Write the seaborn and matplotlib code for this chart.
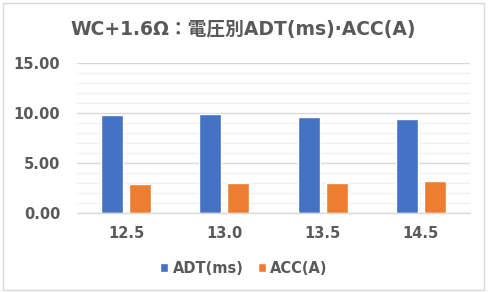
import matplotlib
matplotlib.use("Agg")
import matplotlib.pyplot as plt
import seaborn as sns
import pandas as pd
from matplotlib.patches import Rectangle
from matplotlib.ticker import MultipleLocator, FormatStrFormatter

categories = ["12.5", "13.0", "13.5", "14.5"]
adt = [9.83, 9.95, 9.62, 9.43]
acc = [2.93, 3.03, 3.0, 3.23]
series = ["ADT(ms)", "ACC(A)"]
title = "WC+1.6Ω：電圧別ADT(ms)·ACC(A)"

df = pd.DataFrame({
    "cat": categories * 2,
    "val": adt + acc,
    "series": [series[0]] * len(categories) + [series[1]] * len(categories),
})

sns.set_theme(style="white")
fams = ['DejaVu Sans', 'Noto Sans CJK JP']
plt.rcParams['font.family'] = fams

fig = plt.figure(figsize=(4.88, 2.93), dpi=100)
ax = fig.add_axes([77/488, 1-213.3/293, (470-77)/488, 150/293])

sns.barplot(data=df, x="cat", y="val", hue="series", order=categories,
            hue_order=series, palette=["#4472C4", "#ED7D31"],
            width=0.571, gap=0.21, ax=ax, legend=True, saturation=1)

ax.set_ylim(0, 15)
ax.set_xlim(-0.5, len(categories) - 0.5)
ax.yaxis.set_major_locator(MultipleLocator(5))
ax.yaxis.set_minor_locator(MultipleLocator(1))
ax.yaxis.set_major_formatter(FormatStrFormatter("%.2f"))
ax.grid(axis="y", which="major", color="#D9D9D9", linewidth=1)
ax.grid(axis="y", which="minor", color="#F0F0F0", linewidth=1)
ax.set_axisbelow(True)
for s in ["top", "right", "left"]:
    ax.spines[s].set_visible(False)
ax.spines["bottom"].set_color("#D9D9D9")
ax.spines["bottom"].set_linewidth(1)
ax.set_xlabel("")
ax.set_ylabel("")
ax.tick_params(axis="both", which="both", length=0, labelsize=10.5, labelcolor="#595959")
ax.tick_params(axis="y", pad=12)
ax.tick_params(axis="x", pad=9)
for lab in ax.get_xticklabels() + ax.get_yticklabels():
    lab.set_fontweight("bold")

leg = ax.legend(loc="center", bbox_to_anchor=(0.5 - (77+470-488)/2/393, (213-268)/150),
                bbox_transform=ax.transAxes, ncol=2, frameon=False,
                prop={"size": 10.5, "weight": "bold"}, handlelength=0.55, handleheight=0.55,
                handletextpad=0.3, columnspacing=1.0)
for t in leg.get_texts():
    t.set_color("#595959")

fig.text(243/488, 1-30/293, title, ha="center", va="center", fontsize=13.5,
         fontweight="bold", color="#595959")

fig.patches.append(Rectangle((3/488, 3/293), 481/488, 287/293, transform=fig.transFigure,
                             fill=False, edgecolor="#D9D9D9", linewidth=1))

fig.savefig("out.png", dpi=100)
